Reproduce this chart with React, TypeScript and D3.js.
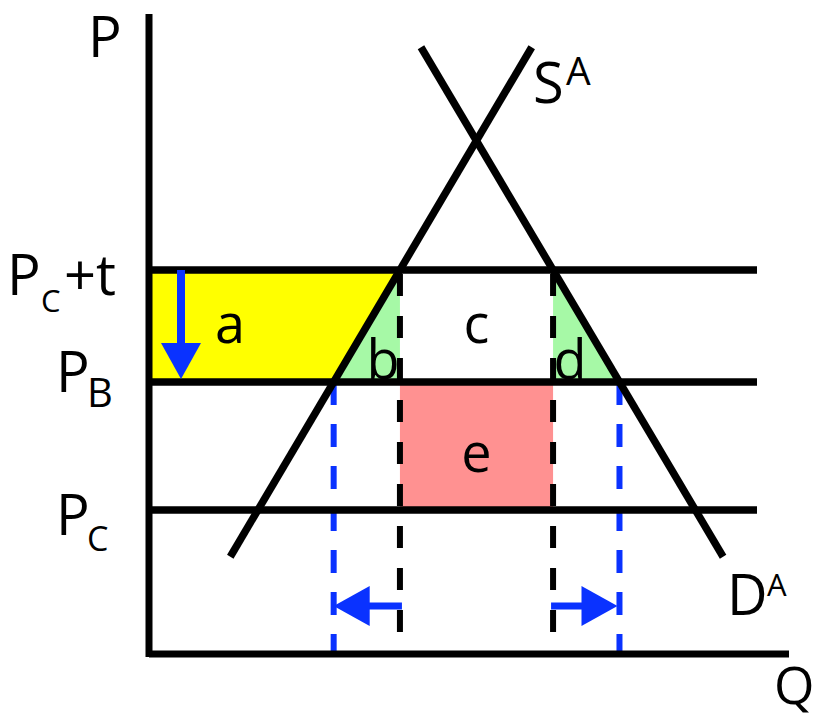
import React from 'react';
import * as d3 from 'd3';

// ---- data (in chart units: Q horizontally, P vertically) ----
const priceNames = ['taxed', 'borderPrice', 'worldPrice'];
const priceValues = [60, 42.5, 22.5];
const supplyPoints: [number, number][] = [[12.7, 15.2], [59.8, 94.8]];
const demandPoints: [number, number][] = [[42.5, 94.8], [89.7, 15.2]];
const areaLabels = ['a', 'b', 'c', 'd', 'e'];
const arrowPrice = 7.5;
const taxArrowQ = 5;
const qMax = 100;
const pMax = 100;
const priceLineEnd = 95;

const W = 822;
const H = 717;
const FONT = '"Open Sans", "Noto Sans", sans-serif';

const BLUE = '#0a32ff';
const YELLOW = '#ffff00';
const GREEN = '#a6f9a6';
const RED = '#ff9191';

function qAt(pts: [number, number][], p: number) {
  const [q0, p0] = pts[0];
  const [q1, p1] = pts[1];
  return q0 + ((p - p0) * (q1 - q0)) / (p1 - p0);
}

export default function App() {
  const x = d3.scaleLinear().domain([0, qMax]).range([149, 789]);
  const y = d3.scaleLinear().domain([0, pMax]).range([654, 14]);

  const [pTax, pB, pC] = priceValues;
  const qsTax = qAt(supplyPoints, pTax);
  const qsB = qAt(supplyPoints, pB);
  const qdTax = qAt(demandPoints, pTax);
  const qdB = qAt(demandPoints, pB);

  const line = d3.line<[number, number]>().x((d) => x(d[0])).y((d) => y(d[1]));

  const yellowPoly: [number, number][] = [[0, pTax], [qsTax, pTax], [qsB, pB], [0, pB]];
  const greenB: [number, number][] = [[qsTax, pTax], [qsTax, pB], [qsB, pB]];
  const greenD: [number, number][] = [[qdTax, pTax], [qdB, pB], [qdTax, pB]];
  const redRect: [number, number][] = [[qsTax, pB], [qdTax, pB], [qdTax, pC], [qsTax, pC]];

  const area = (pts: [number, number][]) => line(pts) + 'Z';

  const sw = 7.5;
  const ay = y(arrowPrice);

  const headLen = 36;
  const headHalf = 20;

  const downX = x(taxArrowQ);
  const downTop = y(pTax);
  const downTip = y(pB) - 3;

  const leftFrom = x(qsTax) + 2;
  const leftTip = x(qsB);
  const rightFrom = x(qdTax) - 2;
  const rightTip = x(qdB) - 2;

  const letterPos: Record<string, [number, number]> = {
    a: [230, y(pTax) + 73],
    b: [x(qsTax) - 17, y(pB) - 3],
    c: [(x(qsTax) + x(qdTax)) / 2, y(pTax) + 73],
    d: [x(qdTax) + 17, y(pB) - 3],
    e: [(x(qsTax) + x(qdTax)) / 2, y(pC) - 38],
  };

  return (
    <svg
      width={W}
      height={H}
      style={{ position: 'absolute', left: 0, top: 0, background: '#fff' }}
      fontFamily={FONT}
    >
      {/* filled areas */}
      <path d={area(yellowPoly)} fill={YELLOW} />
      <path d={area(greenB)} fill={GREEN} />
      <path d={area(greenD)} fill={GREEN} />
      <path d={area(redRect)} fill={RED} />

      {/* dashed verticals */}
      {[qsTax, qdTax].map((q, i) => (
        <line
          key={'bd' + i}
          x1={x(q)}
          x2={x(q)}
          y1={y(pTax)}
          y2={y(0)}
          stroke="#000"
          strokeWidth={6}
          strokeDasharray="22 20"
          strokeDashoffset={-4}
        />
      ))}
      {[qsB, qdB].map((q, i) => (
        <line
          key={'bl' + i}
          x1={x(q)}
          x2={x(q)}
          y1={y(pB)}
          y2={y(0)}
          stroke={BLUE}
          strokeWidth={6}
          strokeDasharray="23 19"
          strokeDashoffset={0}
        />
      ))}

      {/* price lines */}
      {priceValues.map((p, i) => (
        <line
          key={priceNames[i]}
          x1={x(0)}
          x2={x(priceLineEnd)}
          y1={y(p)}
          y2={y(p)}
          stroke="#000"
          strokeWidth={sw}
        />
      ))}

      {/* supply & demand */}
      <path d={line(supplyPoints) || ''} stroke="#000" strokeWidth={sw} fill="none" />
      <path d={line(demandPoints) || ''} stroke="#000" strokeWidth={sw} fill="none" />

      {/* axes */}
      <line x1={x(0)} x2={x(0)} y1={y(pMax)} y2={y(0) + 3} stroke="#000" strokeWidth={7} />
      <line x1={x(0)} x2={x(qMax)} y1={y(0)} y2={y(0)} stroke="#000" strokeWidth={7} />

      {/* down arrow */}
      <line x1={downX} x2={downX} y1={downTop} y2={downTip - headLen + 2} stroke={BLUE} strokeWidth={8} />
      <polygon
        points={`${downX - headHalf},${downTip - headLen} ${downX + headHalf},${downTip - headLen} ${downX},${downTip}`}
        fill={BLUE}
      />

      {/* left arrow */}
      <line x1={leftFrom} x2={leftTip + headLen - 2} y1={ay} y2={ay} stroke={BLUE} strokeWidth={7} />
      <polygon
        points={`${leftTip + headLen},${ay - headHalf} ${leftTip + headLen},${ay + headHalf} ${leftTip},${ay}`}
        fill={BLUE}
      />

      {/* right arrow */}
      <line x1={rightFrom} x2={rightTip - headLen + 2} y1={ay} y2={ay} stroke={BLUE} strokeWidth={7} />
      <polygon
        points={`${rightTip - headLen},${ay - headHalf} ${rightTip - headLen},${ay + headHalf} ${rightTip},${ay}`}
        fill={BLUE}
      />

      {/* area letters */}
      {areaLabels.map((l) => (
        <text key={l} x={letterPos[l][0]} y={letterPos[l][1]} fontSize={54} textAnchor="middle" fill="#000">
          {l}
        </text>
      ))}

      {/* axis titles */}
      <text x={88} y={57} fontSize={56} fill="#000">P</text>
      <text x={774} y={704} fontSize={52} fill="#000">Q</text>

      {/* price labels */}
      <text x={7} y={295} fontSize={56} fill="#000">P</text>
      <text x={41} y={312} fontSize={31} fill="#000">C</text>
      <text x={64} y={295} fontSize={56} fill="#000">+t</text>

      <text x={56} y={392} fontSize={56} fill="#000">P</text>
      <text x={87} y={407} fontSize={40} fill="#000">B</text>

      <text x={56} y={535} fontSize={56} fill="#000">P</text>
      <text x={87} y={551} fontSize={34} fill="#000">C</text>

      {/* curve labels */}
      <text x={533} y={103} fontSize={56} fill="#000">S</text>
      <text x={566} y={85} fontSize={39} fill="#000">A</text>

      <text x={727} y={615} fontSize={56} fill="#000">D</text>
      <text x={767} y={596} fontSize={31} fill="#000">A</text>
    </svg>
  );
}
